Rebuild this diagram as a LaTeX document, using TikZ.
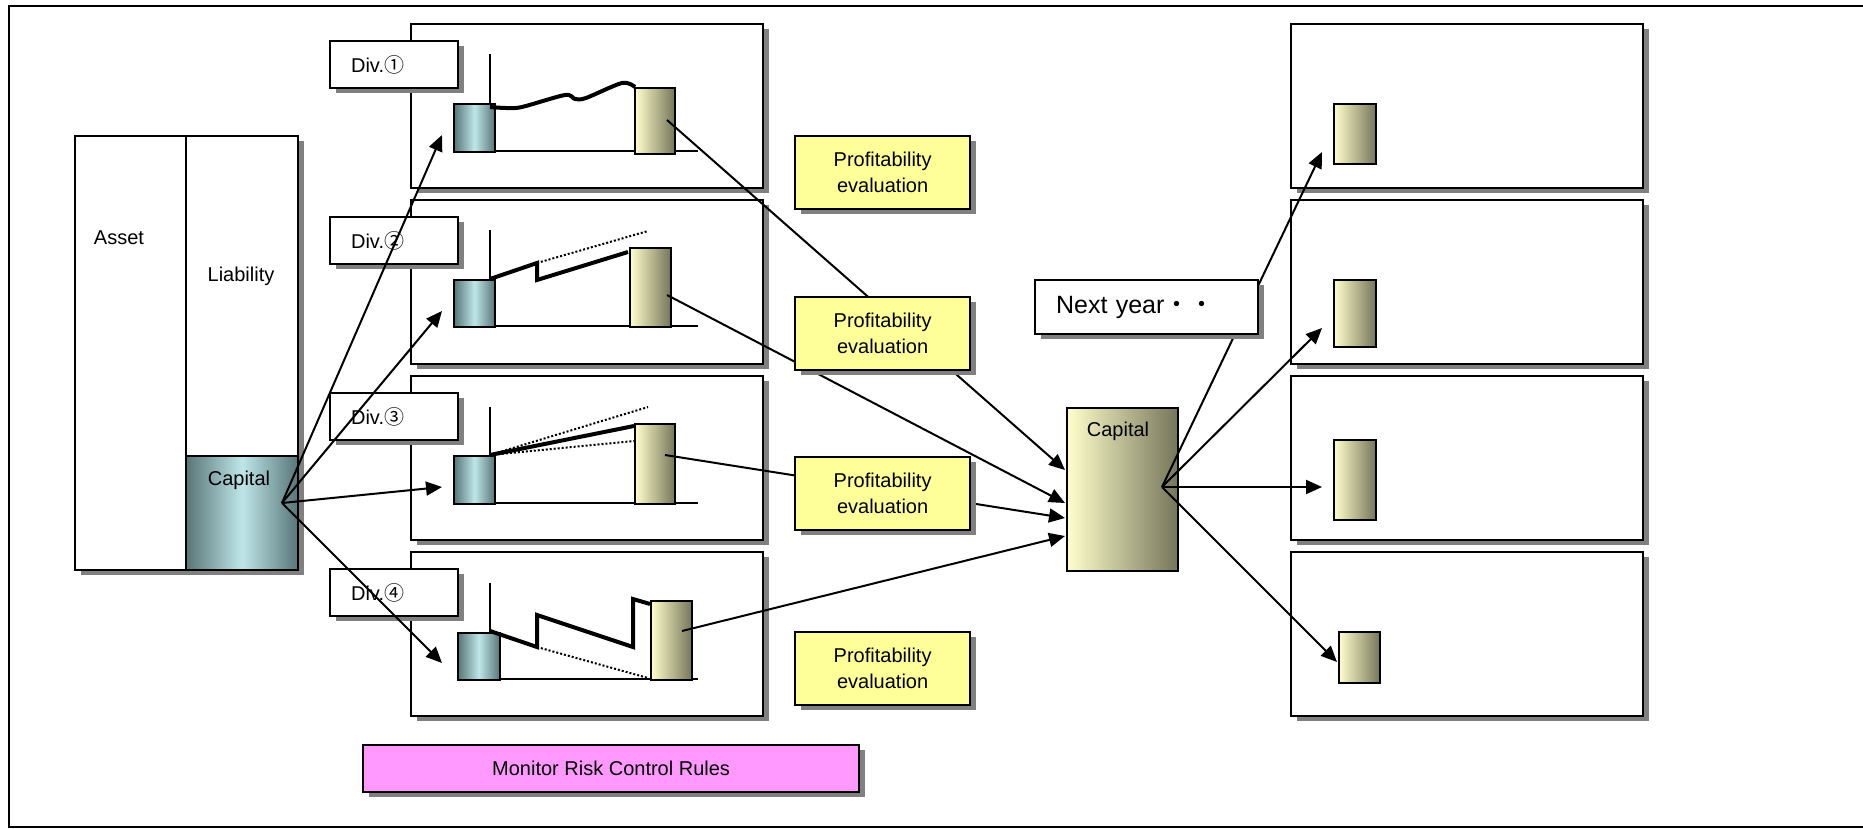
\documentclass[tikz,border=0pt]{standalone}
\usepackage{fontspec}
\setmainfont{Liberation Sans}
\newfontfamily\cjkfont{Noto Sans CJK JP}
\usetikzlibrary{arrows.meta,shadows}
\definecolor{tealdk}{HTML}{587577}
\definecolor{teallt}{HTML}{BEE6E9}
\definecolor{ylt}{HTML}{FFFFCC}
\definecolor{olv}{HTML}{75755A}
\definecolor{pefill}{HTML}{FFFF99}
\definecolor{monfill}{HTML}{FF99FF}
\definecolor{shd}{HTML}{808080}
\begin{document}
\begin{tikzpicture}[x=1pt,y=-1pt,
  box/.style={draw=black, line width=2.2pt, fill=white, inner sep=0pt, anchor=north west},
  shad/.style={drop shadow={shadow xshift=6pt, shadow yshift=-5pt, fill=shd, opacity=1}},
  txt/.style={font=\fontsize{20}{26}\selectfont, inner sep=0pt},
  panel/.style={box, shad, minimum width=352pt, minimum height=164pt},
  divlab/.style={box, shad, minimum height=47pt, inner xsep=21pt, text width=86pt, align=left, font=\fontsize{20}{26}\selectfont},
  pebox/.style={box, shad, fill=pefill, minimum width=175pt, minimum height=73pt, align=center, font=\fontsize{20}{26}\selectfont},
  bluebar/.style={draw=black, line width=1.8pt, inner sep=0pt, anchor=north west, left color=tealdk, right color=tealdk, middle color=teallt},
  yelbar/.style={draw=black, line width=1.8pt, inner sep=0pt, anchor=north west, left color=ylt, right color=olv},
  axisline/.style={line width=2pt},
  chartline/.style={line width=4pt, line join=miter},
  dotline/.style={line width=2pt, dotted},
  conn/.style={line width=2pt},
  arr/.style={conn, -{Triangle[length=16pt,width=14pt]}}
]
\useasboundingbox (0,0) rectangle (1863,829);
% outer frame
\draw[line width=2pt] (1880,6) -- (9,6) -- (9,827) -- (1880,827);

% balance sheet
\node[box, shad, minimum width=223pt, minimum height=434pt] (bs) at (74,135) {};
\node[box, minimum width=111pt, minimum height=434pt] (asset) at (74,135) {};
\node[box, minimum width=112pt, minimum height=320pt] (liab) at (185,135) {};
\node[box, left color=tealdk, right color=tealdk, middle color=teallt, minimum width=112pt, minimum height=114pt] (capbs) at (185,455) {};
\node[txt] (tasset) at (119,238) {Asset};
\node[txt] (tliab) at (241,276) {Liability};
\node[txt] (tcapbs) at (239,480) {Capital};
\coordinate (o) at (282,503);

% division panels
\node[panel] (p1) at (410,23) {};
\node[panel] (p2) at (410,199) {};
\node[panel] (p3) at (410,375) {};
\node[panel] (p4) at (410,551) {};

% panel 1 chart
\draw[axisline] (490,54) -- (490,151) -- (698,151);
\node[bluebar, minimum width=41pt, minimum height=48pt] (b1) at (453,103) {};
\node[yelbar, minimum width=40pt, minimum height=66pt] (y1) at (634,87) {};
\draw[chartline, line join=round] plot[smooth, tension=0.5] coordinates {(490,107) (506,108) (522,107) (565,95) (575,99) (586,98) (622,83) (635,87)};

% panel 2 chart
\draw[axisline] (490,230) -- (490,326) -- (698,326);
\node[bluebar, minimum width=41pt, minimum height=47pt] (b2) at (453,279) {};
\node[yelbar, minimum width=41pt, minimum height=79pt] (y2) at (629,247) {};
\draw[chartline] (490,279) -- (537,263) -- (537,280) -- (628,252);
\draw[dotline] (537,263) -- (648,231);

% panel 3 chart
\draw[axisline] (490,407) -- (490,503) -- (698,503);
\node[bluebar, minimum width=41pt, minimum height=48pt] (b3) at (453,455) {};
\node[yelbar, minimum width=40pt, minimum height=80pt] (y3) at (634,423) {};
\draw[chartline] (490,455) -- (634,426);
\draw[dotline] (490,455) -- (648,407);
\draw[dotline] (490,455) -- (634,441);

% panel 4 chart
\draw[axisline] (490,583) -- (490,679) -- (698,679);
\node[bluebar, minimum width=42pt, minimum height=47pt] (b4) at (457,632) {};
\node[yelbar, minimum width=41pt, minimum height=79pt] (y4) at (650,600) {};
\draw[chartline] (490,631) -- (537,647) -- (537,615) -- (633,647) -- (633,599) -- (650,604);
\draw[dotline] (537,647) -- (648,678);

% division labels
\node[divlab] (l1) at (329,40) {Div.{\cjkfont ①}};
\node[divlab] (l2) at (329,216) {Div.{\cjkfont ②}};
\node[divlab] (l3) at (329,392) {Div.{\cjkfont ③}};
\node[divlab] (l4) at (329,568) {Div.{\cjkfont ④}};

% right panels
\node[panel] (r1) at (1290,23) {};
\node[panel] (r2) at (1290,199) {};
\node[panel] (r3) at (1290,375) {};
\node[panel] (r4) at (1290,551) {};
\node[yelbar, minimum width=42pt, minimum height=60pt] (s1) at (1333,103) {};
\node[yelbar, minimum width=42pt, minimum height=67pt] (s2) at (1333,279) {};
\node[yelbar, minimum width=42pt, minimum height=80pt] (s3) at (1333,439) {};
\node[yelbar, minimum width=41pt, minimum height=51pt] (s4) at (1338,631) {};

% capital box (right)
\node[yelbar, draw=black, line width=2pt, minimum width=111pt, minimum height=163pt] (cap) at (1066,407) {};
\node[txt] (tcap) at (1118,431) {Capital};
\coordinate (oc) at (1162,487);

% connectors: capital to divisions
\coordinate (t1) at (442,135);
\coordinate (t2) at (442,311);
\coordinate (t3) at (442,487);
\coordinate (t4) at (442,663);
\draw[arr] (o) -- (t1);
\draw[arr] (o) -- (t2);
\draw[arr] (o) -- (t3);
\draw[arr] (o) -- (t4);

% connectors: divisions to capital
\coordinate (y1o) at (667,120);
\coordinate (y2o) at (667,295);
\coordinate (y3o) at (665,455);
\coordinate (y4o) at (682,631);
\coordinate (c1) at (1065,470);
\coordinate (c2) at (1065,503);
\coordinate (c3) at (1065,518);
\coordinate (c4) at (1065,536);
\draw[arr] (y1o) -- (c1);
\draw[arr] (y2o) -- (c2);
\draw[arr] (y3o) -- (c3);
\draw[arr] (y4o) -- (c4);

% connectors: capital to next year
\coordinate (n1) at (1322,152);
\coordinate (n2) at (1322,328);
\coordinate (n3) at (1322,487);
\coordinate (n4) at (1337,662);
\draw[arr] (oc) -- (n1);
\draw[arr] (oc) -- (n2);
\draw[arr] (oc) -- (n3);
\draw[arr] (oc) -- (n4);

% profitability evaluation boxes
\node[pebox] (e1) at (794,135) {Profitability\\evaluation};
\node[pebox] (e2) at (794,296) {Profitability\\evaluation};
\node[pebox] (e3) at (794,456) {Profitability\\evaluation};
\node[pebox] (e4) at (794,631) {Profitability\\evaluation};

% next year
\node[box, shad, minimum height=54pt, inner xsep=21pt, text width=181pt, align=left, font=\fontsize{25}{30}\selectfont] (next) at (1034,279) {Next year{\cjkfont ・・}};

% monitor
\node[box, shad, fill=monfill, minimum width=496pt, minimum height=47pt, font=\fontsize{20}{26}\selectfont] (mon) at (362,744) {Monitor Risk Control Rules};
\end{tikzpicture}
\end{document}
